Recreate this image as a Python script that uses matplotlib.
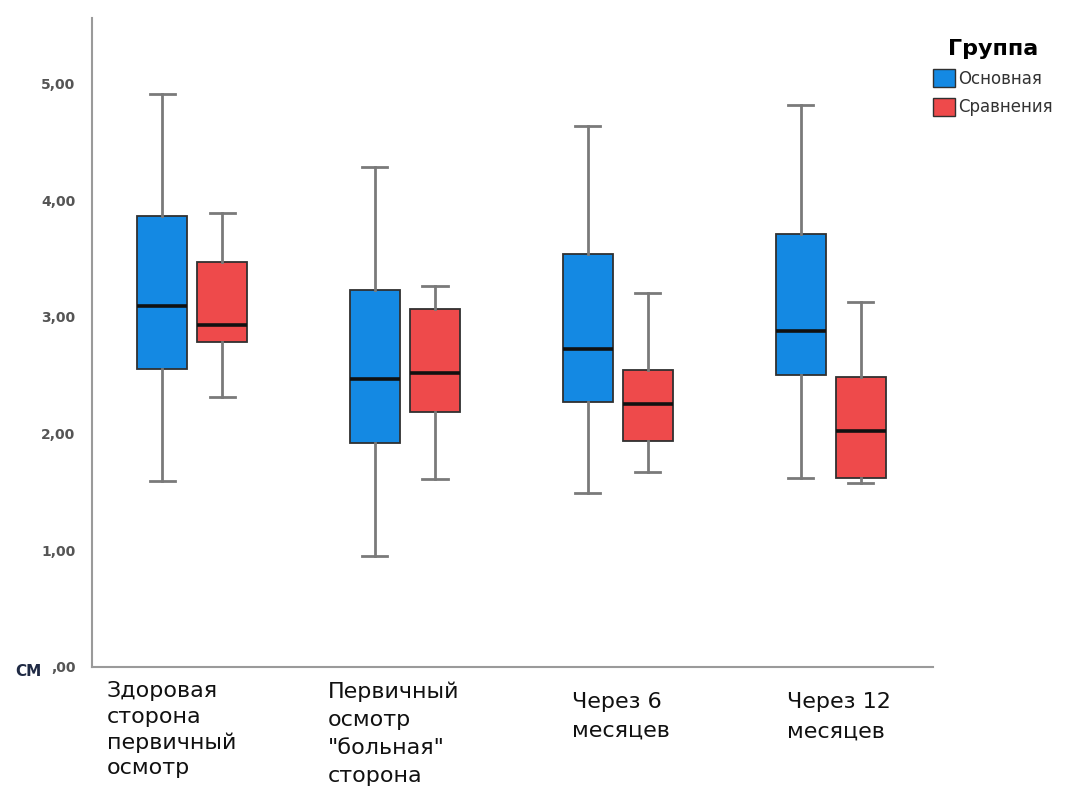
import matplotlib
matplotlib.use('Agg')
from matplotlib import pyplot as plt
from matplotlib.patches import Patch
from matplotlib.ticker import FuncFormatter

# данные
categories = ['Здоровая\nсторона\nпервичный\nосмотр',
              'Первичный\nосмотр\n"больная"\nсторона',
              'Через 6\nмесяцев',
              'Через 12\nмесяцев']
groups = ['Основная', 'Сравнения']

# (нижний ус, Q1, медиана, Q3, верхний ус)
main_stats = [
    (1.59, 2.55, 3.09, 3.86, 4.91),
    (0.95, 1.92, 2.47, 3.23, 4.28),
    (1.49, 2.27, 2.72, 3.54, 4.63),
    (1.62, 2.50, 2.88, 3.71, 4.81),
]
compare_stats = [
    (2.31, 2.78, 2.93, 3.47, 3.89),
    (1.61, 2.18, 2.52, 3.07, 3.26),
    (1.67, 1.94, 2.25, 2.54, 3.20),
    (1.58, 1.62, 2.02, 2.48, 3.13),
]
y_ticks = [0, 1, 2, 3, 4, 5]

colors = ['#1489e3', '#ee4a4b']


def make_bxp_stats(stats):
    out = []
    for lo, q1, med, q3, hi in stats:
        out.append({'whislo': lo, 'q1': q1, 'med': med, 'q3': q3, 'whishi': hi, 'fliers': []})
    return out


fig = plt.figure(figsize=(10.67, 7.94), dpi=100)
ax = fig.add_axes([92 / 1067, 1 - 667 / 794, (933 - 92) / 1067, (667 - 18) / 794])

offset = 0.141
width = 0.235
for k, stats in enumerate([main_stats, compare_stats]):
    positions = [i + (offset if k else -offset) for i in range(len(categories))]
    ax.bxp(make_bxp_stats(stats), positions=positions, widths=width, patch_artist=True,
           showfliers=False,
           boxprops=dict(facecolor=colors[k], edgecolor='#303030', linewidth=1.3),
           medianprops=dict(color='#111111', linewidth=2.6),
           whiskerprops=dict(color='#7a7a7a', linewidth=2),
           capprops=dict(color='#7a7a7a', linewidth=2),
           capwidths=width * 0.5)

ax.set_xlim(-0.47, 3.48)
ax.set_ylim(0, (667 - 18) / 116.75)
ax.set_yticks(y_ticks)
ax.yaxis.set_major_formatter(FuncFormatter(lambda v, p: ('%.2f' % v).replace('.', ',').lstrip('0')))
ax.tick_params(axis='y', length=0, pad=12, labelsize=10, labelcolor='#555555')
ax.set_xticks([])
for lab in ax.get_yticklabels():
    lab.set_fontweight('bold')

for side in ['top', 'right']:
    ax.spines[side].set_visible(False)
for side in ['left', 'bottom']:
    ax.spines[side].set_color('#9a9a9a')
    ax.spines[side].set_linewidth(1.5)

fig.text(15 / 1067, 1 - 671 / 794, 'СМ', fontsize=11, fontweight='bold', color='#1f2a44',
         ha='left', va='center')

# подписи категорий под осью
label_pos = [(107, 681, 1.35), (328, 681, 1.5), (572, 692, 1.55), (787, 692, 1.6)]
for text, (px, py, ls) in zip(categories, label_pos):
    fig.text(px / 1067, 1 - py / 794, text, fontsize=16,
             ha='left', va='top', linespacing=ls, color='#111111')

handles = [Patch(facecolor=c, edgecolor='#303030', label=g) for c, g in zip(colors, groups)]
leg = fig.legend(handles=handles, title='Группа', loc='upper left',
                 bbox_to_anchor=(918 / 1067, 1 - 24 / 794), frameon=False,
                 fontsize=12, title_fontsize=16, handlelength=1.3, handleheight=1.3,
                 handletextpad=0.2, labelspacing=0.6, labelcolor='#333333')
leg.get_title().set_fontweight('bold')

fig.savefig('out.png', dpi=100)
